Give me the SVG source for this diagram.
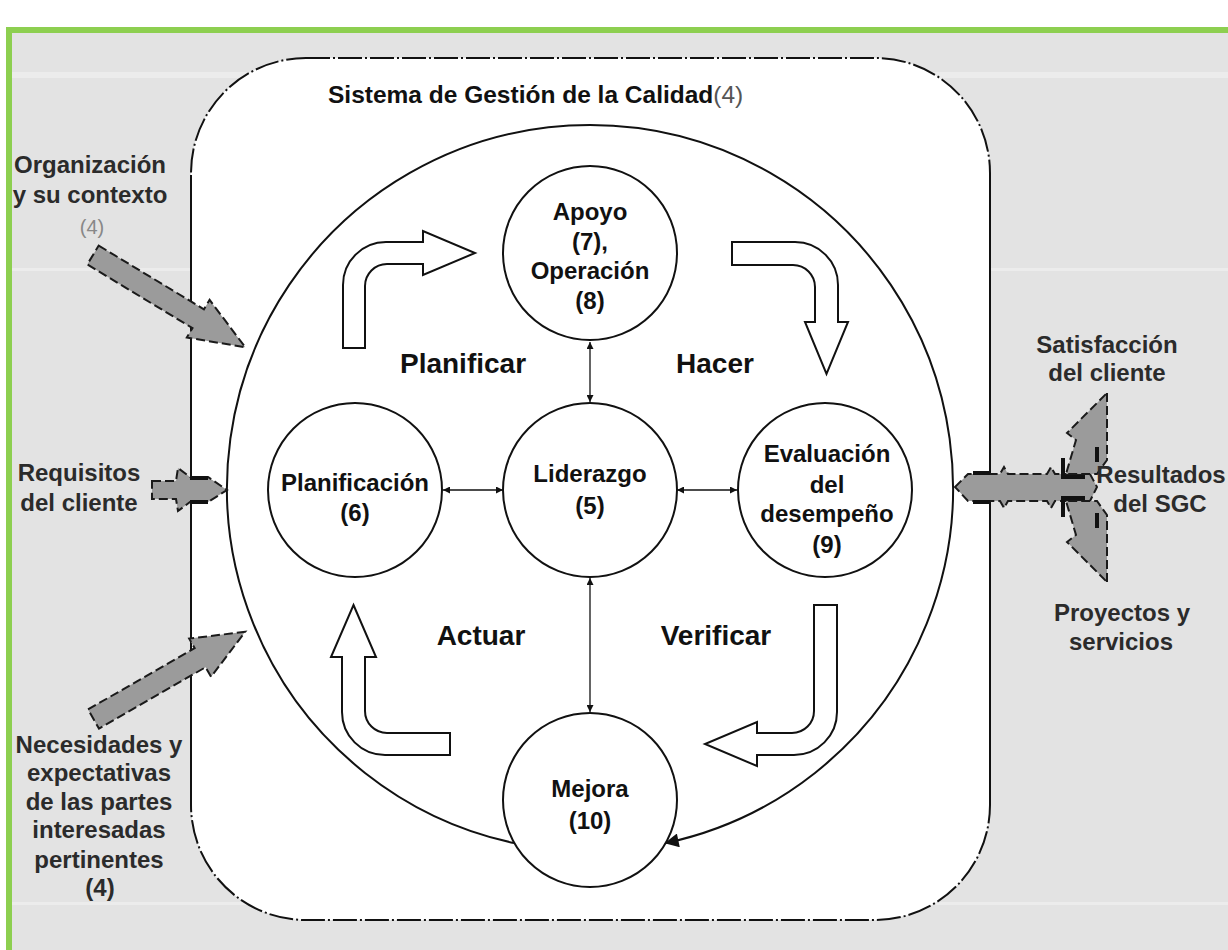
<svg xmlns="http://www.w3.org/2000/svg" width="1228" height="950" viewBox="0 0 1228 950">
<defs>
<style>
.t{font-family:"Liberation Sans",Arial,sans-serif;font-weight:bold;fill:#111;text-anchor:middle}
.c{font-size:24px}
.ph{font-size:28px}
.side{font-size:24px;fill:#2b2b2b}
.node{fill:#fff;stroke:#111;stroke-width:2}
.blk{fill:#fff;stroke:#111;stroke-width:2}
.gr{fill:#9b9b9b;stroke:#1a1a1a;stroke-width:2;stroke-dasharray:9 4}
.thin{fill:none;stroke:#111;stroke-width:1.3}
.bk{fill:none;stroke:#111;stroke-width:4}
.band{fill:#ececec}
</style>
<marker id="ah" viewBox="0 0 10 10" refX="10" refY="5" markerWidth="8" markerHeight="7" markerUnits="userSpaceOnUse" orient="auto-start-reverse"><path d="M0,0 L10,5 L0,10 z" fill="#111"/></marker>
<marker id="big" viewBox="0 0 10 10" refX="9" refY="5" markerWidth="20" markerHeight="14" markerUnits="userSpaceOnUse" orient="auto"><path d="M0,0 L10,5 L0,10 z" fill="#111"/></marker>
</defs>

<rect width="1228" height="950" fill="#fff"/>
<rect x="9" y="30" width="1225" height="925" fill="#e3e3e3" stroke="#8dcf50" stroke-width="6"/>
<rect class="band" x="12" y="72" width="1216" height="6"/>
<rect class="band" x="12" y="268" width="1216" height="3"/>
<rect class="band" x="12" y="902" width="1216" height="3"/>

<g id="sgc-frame">
<rect x="191" y="58" width="799" height="862" rx="115" ry="115" fill="#fff" stroke="#111" stroke-width="2" stroke-dasharray="24 3 2 3"/>
<line x1="191" y1="175" x2="191" y2="800" stroke="#111" stroke-width="2"/>
<line x1="990" y1="175" x2="990" y2="800" stroke="#111" stroke-width="2"/>
<text class="t" x="328" y="103" font-size="24.5" style="text-anchor:start">Sistema de Gestión de la Calidad<tspan font-weight="normal" fill="#555">(4)</tspan></text>
</g>

<g id="connectors">
<path d="M 514 843 A 363 363 0 1 1 666 843" fill="none" stroke="#111" stroke-width="2" marker-end="url(#big)"/>
<line class="thin" x1="590" y1="342" x2="590" y2="402" marker-start="url(#ah)" marker-end="url(#ah)"/>
<line class="thin" x1="443" y1="490" x2="503" y2="490" marker-start="url(#ah)" marker-end="url(#ah)"/>
<line class="thin" x1="677" y1="490" x2="737" y2="490" marker-start="url(#ah)" marker-end="url(#ah)"/>
<line class="thin" x1="590" y1="578" x2="590" y2="712" marker-start="url(#ah)" marker-end="url(#ah)"/>
<path class="blk" d="M 343 348 L 343 285 A 43 43 0 0 1 386 242 L 423 242 L 423 231 L 475 253 L 423 275 L 423 264 L 387 264 A 22 22 0 0 0 365 286 L 365 348 Z"/>
<path class="blk" d="M 732 242 L 795 242 A 43 43 0 0 1 838 285 L 838 322 L 848 322 L 826.5 374 L 805 322 L 815 322 L 815 287 A 22 22 0 0 0 793 265 L 732 265 Z"/>
<path class="blk" d="M 814 605 L 837 605 L 837 712 A 43 43 0 0 1 794 755 L 757 755 L 757 766 L 705 744 L 757 722 L 757 733 L 792 733 A 22 22 0 0 0 814 711 Z"/>
<path class="blk" d="M 353.5 605 L 376 657 L 365 657 L 365 711 A 22 22 0 0 0 387 733 L 450 733 L 450 755 L 385 755 A 43 43 0 0 1 342 712 L 342 657 L 331 657 Z"/>
<polygon class="gr" transform="translate(93,255) rotate(31.2)" points="0,-11 123,-11 123,-22 178,0 123,22 123,11 0,11"/>
<polygon class="gr" transform="translate(93.5,719) rotate(-29.9)" points="0,-11 123,-11 123,-22 175,0 123,22 123,11 0,11"/>
<polygon class="gr" points="152,481 176,481 178,468 190,477 208,477 227,490 208,502 190,502 178,511 176,499 152,499"/>
<line class="bk" x1="190" y1="478" x2="208" y2="478"/>
<line class="bk" x1="190" y1="502" x2="208" y2="502"/>
<polygon class="gr" points="955,487 968,474 1000,474 1004,467 1008,474 1047,474 1051,467 1055,474 1090,474 1097,487 1090,501 1055,501 1051,508 1047,501 1008,501 1004,508 1000,501 968,501"/>
<polygon class="gr" points="1107,393 1107,460 1097,474 1066,474 1076,440 1067,433"/>
<polygon class="gr" points="1107,582 1107,515 1097,501 1066,501 1076,535 1067,542"/>
<line class="bk" x1="973" y1="473" x2="990" y2="473"/>
<line class="bk" x1="973" y1="502" x2="990" y2="502"/>
<path class="bk" d="M1063 458 L1063 477 L1085 477 M1097 447 L1097 462 M1063 517 L1063 498 L1085 498 M1097 528 L1097 513"/>
</g>

<g id="apoyo"><circle class="node" cx="590" cy="253" r="87"/>
<text class="t c" x="590" y="220">Apoyo</text><text class="t c" x="590" y="250">(7),</text><text class="t c" x="590" y="279">Operación</text><text class="t c" x="590" y="309">(8)</text></g>
<g id="liderazgo"><circle class="node" cx="590" cy="490" r="87"/>
<text class="t c" x="590" y="482">Liderazgo</text><text class="t c" x="590" y="514">(5)</text></g>
<g id="planificacion"><circle class="node" cx="355" cy="490" r="87"/>
<text class="t c" x="355" y="491">Planificación</text><text class="t c" x="355" y="521">(6)</text></g>
<g id="evaluacion"><circle class="node" cx="825" cy="490" r="87"/>
<text class="t c" x="827" y="462">Evaluación</text><text class="t c" x="827" y="493">del</text><text class="t c" x="827" y="522">desempeño</text><text class="t c" x="827" y="553">(9)</text></g>
<g id="mejora"><circle class="node" cx="590" cy="800" r="87"/>
<text class="t c" x="590" y="797">Mejora</text><text class="t c" x="590" y="829">(10)</text></g>

<g id="phases">
<text class="t ph" x="463" y="373">Planificar</text>
<text class="t ph" x="715" y="373">Hacer</text>
<text class="t ph" x="481" y="645">Actuar</text>
<text class="t ph" x="716" y="645">Verificar</text>
</g>

<g id="in-organizacion">
<text class="t side" x="90" y="173">Organización</text>
<text class="t side" x="90" y="203">y su contexto</text>
<text class="t" x="92" y="234" font-size="20" style="font-weight:normal;fill:#888">(4)</text>
</g>
<g id="in-requisitos">
<text class="t side" x="79" y="481">Requisitos</text>
<text class="t side" x="79" y="511">del cliente</text>
</g>
<g id="in-necesidades">
<text class="t side" x="99" y="753">Necesidades y</text>
<text class="t side" x="99" y="781">expectativas</text>
<text class="t side" x="99" y="810">de las partes</text>
<text class="t side" x="99" y="838">interesadas</text>
<text class="t side" x="99" y="868">pertinentes</text>
<text class="t side" x="100" y="896">(4)</text>
</g>
<g id="out-satisfaccion">
<text class="t side" x="1107" y="353">Satisfacción</text>
<text class="t side" x="1107" y="381">del cliente</text>
</g>
<g id="out-resultados">
<text class="t side" x="1161" y="483">Resultados</text>
<text class="t side" x="1160" y="512">del SGC</text>
</g>
<g id="out-proyectos">
<text class="t side" x="1122" y="621">Proyectos y</text>
<text class="t side" x="1121" y="650">servicios</text>
</g>
</svg>
